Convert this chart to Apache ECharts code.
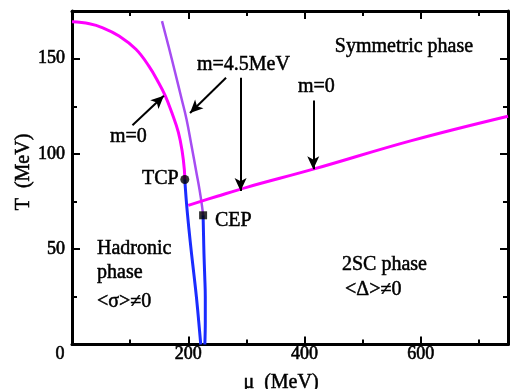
<!DOCTYPE html>
<html>
<head>
<meta charset="utf-8">
<style>
  html, body { margin: 0; padding: 0; background: #fff; }
  #chart { width: 511px; height: 389px; }
</style>
<script src="https://cdn.jsdelivr.net/npm/echarts@6/dist/echarts.min.js"></script>
</head>
<body>
<div id="chart"></div>
<script>
// chiral crossover line for m=0 (mu, T in MeV), ends at the TCP
var chiralM0 = [[0, 169.3], [30, 168.3], [53, 166.2], [81, 161.9], [110, 154.9], [132, 146.2],
  [149, 137.4], [160.5, 130.5], [171.7, 121.7], [183, 111.3], [189.8, 100.8], [193.2, 92], [194, 86.6]];
// chiral crossover line for m=4.5 MeV, ends at the CEP
var chiralM45 = [[154.8, 169.7], [166, 156.6], [177.4, 142.7], [188.7, 128.7], [197, 118.2],
  [205.6, 104.3], [214, 90.3], [219.5, 81], [223.5, 73], [225.5, 67.8]];
// first order lines
var firstOrderM0 = [[194, 86.6], [197, 74], [201, 61], [205.6, 47.7], [210, 36], [214, 25],
  [218, 12], [221.5, 0]];
var firstOrderM45 = [[225.5, 67.8], [226.3, 57], [227, 47.7], [228.3, 36], [229.3, 25],
  [229.3, 12], [228.5, 0]];
// 2SC boundary
var scLine = [[200, 73], [250, 77.8], [302, 82.6], [415, 92], [584, 107], [750, 119.8]];
var tcp = [[194, 86.6]];
var cep = [[225.5, 67.8]];
// arrows: [from, to]
var arrows = [
  [[104, 115], [158, 130.5]],
  [[265, 140], [203, 121.5]],
  [[290, 140], [290, 80.5]],
  [[415, 128], [415, 92]]
];
var xTicks = [0, 200, 400, 600];
var yTicks = [50, 100, 150];

var font = '"Liberation Serif", "DejaVu Serif", serif';
var chart = echarts.init(document.getElementById('chart'));

function xAxis(pos, interval, len, main) {
  return {
    type: 'value', position: pos, min: 0, max: 750, interval: interval,
    axisLine: { show: main, onZero: false, lineStyle: { color: '#000', width: 3 } },
    axisTick: { show: true, inside: true, length: len, lineStyle: { color: '#000', width: 2 } },
    axisLabel: {
      show: main && pos === 'bottom', margin: 1, color: '#000', fontFamily: font, fontSize: 18,
      textBorderColor: '#000', textBorderWidth: 0.6,
      formatter: function (v) {
        if (xTicks.indexOf(v) < 0) return '';
        return v === 0 ? '{z|0}' : String(v);
      },
      rich: { z: { padding: [0, 24, 0, 0], fontFamily: font, fontSize: 18, color: '#000',
        textBorderColor: '#000', textBorderWidth: 0.6 } }
    },
    splitLine: { show: false }
  };
}
function yAxis(pos, interval, len, main) {
  return {
    type: 'value', position: pos, min: 0, max: 175, interval: interval,
    axisLine: { show: main, onZero: false, lineStyle: { color: '#000', width: 3 } },
    axisTick: { show: true, inside: true, length: len, lineStyle: { color: '#000', width: 2 } },
    axisLabel: {
      show: main && pos === 'left', margin: 7, color: '#000', fontFamily: font, fontSize: 18,
      textBorderColor: '#000', textBorderWidth: 0.6,
      formatter: function (v) { return yTicks.indexOf(v) < 0 ? '' : String(v); }
    },
    splitLine: { show: false }
  };
}

function curve(data, color, width) {
  return {
    type: 'line', data: data, smooth: 0.4, symbol: 'none',
    lineStyle: { color: color, width: width }, z: 3
  };
}

var arrowLines = arrows.map(function (a) {
  return [{ coord: a[0] }, { coord: a[1] }];
});

function txt(x, y, s, align) {
  return {
    type: 'text', x: x, y: y,
    style: { text: s, font: '20px ' + font, fill: '#000', stroke: '#000', lineWidth: 0.5,
      textAlign: align || 'left', textVerticalAlign: 'middle' }
  };
}

chart.setOption({
  animation: false,
  grid: { left: 72, top: 11, right: -3, bottom: 44.5 },
  xAxis: [
    xAxis('bottom', 200, 8, true),
    xAxis('bottom', 100, 5, false),
    xAxis('top', 200, 8, true),
    xAxis('top', 100, 5, false)
  ],
  yAxis: [
    yAxis('left', 50, 8, true),
    yAxis('left', 25, 5, false),
    yAxis('right', 50, 8, true),
    yAxis('right', 25, 5, false)
  ],
  series: [
    curve(chiralM0, '#ff00ff', 3),
    curve(chiralM45, '#a64cf2', 2.5),
    curve(firstOrderM0, '#1a2cff', 3),
    curve(firstOrderM45, '#1a2cff', 3),
    {
      type: 'line', data: scLine, smooth: 0.4, symbol: 'none',
      lineStyle: { color: '#ff00ff', width: 3 }, z: 3,
      markLine: {
        silent: true, symbol: ['none', 'arrow'], symbolSize: [9, 13],
        lineStyle: { color: '#000', width: 2, type: 'solid' },
        label: { show: false }, data: arrowLines, z: 4
      }
    },
    { type: 'scatter', data: tcp, symbol: 'circle', symbolSize: 9, itemStyle: { color: '#000' }, z: 5 },
    { type: 'scatter', data: cep, symbol: 'rect', symbolSize: 8, itemStyle: { color: '#000' }, z: 5 }
  ],
  graphic: [
    txt(404, 47, 'Symmetric phase', 'center'),
    txt(197, 65, 'm=4.5MeV'),
    txt(110, 137, 'm=0'),
    txt(298, 87, 'm=0'),
    txt(142, 179, 'TCP'),
    txt(215, 221, 'CEP'),
    txt(97, 249, 'Hadronic'),
    txt(97, 273, 'phase'),
    txt(97, 302, '<σ>≠0'),
    txt(342, 265, '2SC phase'),
    txt(345, 290, '<Δ>≠0'),
    txt(281, 383, 'μ  (MeV)', 'center'),
    {
      type: 'text', x: 24, y: 172, rotation: Math.PI / 2,
      style: { text: 'T  (MeV)', font: '20px ' + font, fill: '#000', stroke: '#000', lineWidth: 0.5,
        textAlign: 'center', textVerticalAlign: 'middle' }
    }
  ]
});
</script>
</body>
</html>
